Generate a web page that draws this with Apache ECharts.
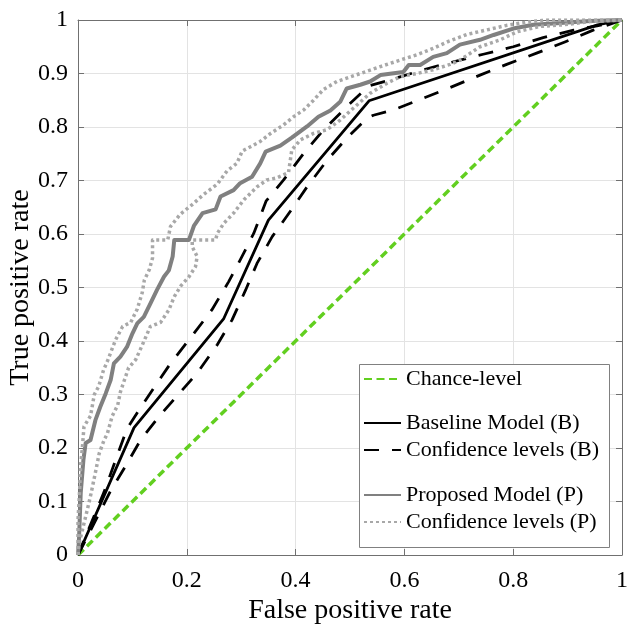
<!DOCTYPE html>
<html><head><meta charset="utf-8">
<script src="https://cdn.jsdelivr.net/npm/echarts@6/dist/echarts.min.js"></script>
<style>html,body{margin:0;padding:0;background:#fff}#c{width:627px;height:624px}</style>
</head><body><div id="c"></div>
<script>
// ---- data ----
const xTickInterval = 0.2;
const yTickInterval = 0.1;
const chanceLevel = [[0,0],[1,1]];
const baselineModel = [[0,0],[0.103,0.238],[0.268,0.442],[0.350,0.626],[0.535,0.849],[0.955,0.991],[1,1]];
const baselineUpper = [[0,0],[0.048,0.118],[0.09,0.236],[0.118,0.28],[0.17,0.358],[0.213,0.414],[0.246,0.458],[0.277,0.511],[0.298,0.551],[0.323,0.601],[0.346,0.662],[0.378,0.701],[0.415,0.751],[0.451,0.794],[0.497,0.841],[0.535,0.877],[0.577,0.889],[0.635,0.907],[0.687,0.921],[0.745,0.936],[0.800,0.950],[0.855,0.967],[0.911,0.981],[0.954,0.989],[1,1]];
const baselineLower = [[0,0],[0.06,0.12],[0.085,0.162],[0.115,0.215],[0.149,0.259],[0.186,0.302],[0.219,0.340],[0.256,0.393],[0.283,0.439],[0.308,0.495],[0.329,0.545],[0.357,0.595],[0.390,0.642],[0.421,0.688],[0.458,0.738],[0.494,0.779],[0.531,0.816],[0.543,0.822],[0.580,0.832],[0.635,0.854],[0.687,0.875],[0.739,0.897],[0.788,0.917],[0.843,0.938],[0.895,0.959],[0.947,0.981],[1,1]];
const proposedModel = [[0,0],[0.002,0.034],[0.005,0.116],[0.010,0.178],[0.014,0.209],[0.023,0.215],[0.032,0.252],[0.041,0.277],[0.051,0.302],[0.060,0.327],[0.066,0.358],[0.078,0.371],[0.090,0.389],[0.100,0.414],[0.109,0.433],[0.121,0.445],[0.133,0.470],[0.145,0.495],[0.158,0.520],[0.167,0.532],[0.174,0.558],[0.177,0.589],[0.204,0.589],[0.213,0.615],[0.229,0.639],[0.253,0.646],[0.262,0.670],[0.286,0.682],[0.298,0.695],[0.320,0.707],[0.335,0.732],[0.345,0.754],[0.372,0.765],[0.393,0.780],[0.421,0.801],[0.442,0.819],[0.464,0.831],[0.482,0.847],[0.494,0.872],[0.519,0.879],[0.537,0.885],[0.556,0.897],[0.598,0.903],[0.608,0.916],[0.629,0.916],[0.653,0.931],[0.678,0.938],[0.702,0.954],[0.739,0.963],[0.764,0.972],[0.800,0.984],[0.837,0.991],[0.880,0.994],[0.941,0.998],[1,1]];
const proposedUpper = [[0,0],[0,0.065],[0.003,0.121],[0.005,0.17],[0.008,0.2],[0.011,0.24],[0.023,0.26],[0.03,0.3],[0.038,0.315],[0.047,0.346],[0.054,0.362],[0.069,0.402],[0.082,0.427],[0.097,0.435],[0.109,0.46],[0.118,0.49],[0.122,0.514],[0.131,0.533],[0.137,0.555],[0.137,0.589],[0.165,0.589],[0.17,0.614],[0.188,0.637],[0.21,0.655],[0.231,0.674],[0.256,0.693],[0.274,0.718],[0.292,0.732],[0.302,0.755],[0.317,0.763],[0.335,0.773],[0.354,0.788],[0.378,0.804],[0.396,0.819],[0.415,0.832],[0.433,0.85],[0.451,0.87],[0.476,0.885],[0.519,0.9],[0.556,0.913],[0.592,0.925],[0.623,0.935],[0.653,0.947],[0.681,0.96],[0.715,0.973],[0.758,0.983],[0.788,0.99],[0.825,0.996],[0.86,1],[1,1]];
const proposedLower = [[0,0],[0.002,0.022],[0.011,0.059],[0.017,0.084],[0.024,0.115],[0.033,0.159],[0.039,0.19],[0.048,0.215],[0.054,0.227],[0.063,0.26],[0.073,0.28],[0.078,0.305],[0.093,0.35],[0.106,0.365],[0.118,0.392],[0.133,0.427],[0.152,0.435],[0.167,0.458],[0.177,0.483],[0.189,0.503],[0.204,0.52],[0.216,0.539],[0.219,0.558],[0.210,0.576],[0.210,0.589],[0.253,0.589],[0.256,0.601],[0.268,0.620],[0.286,0.639],[0.305,0.664],[0.329,0.688],[0.347,0.701],[0.366,0.705],[0.387,0.715],[0.393,0.757],[0.409,0.776],[0.433,0.788],[0.458,0.795],[0.482,0.813],[0.507,0.836],[0.537,0.863],[0.568,0.882],[0.592,0.894],[0.623,0.900],[0.653,0.907],[0.684,0.917],[0.702,0.925],[0.739,0.950],[0.776,0.963],[0.807,0.978],[0.849,0.988],[0.892,0.991],[0.941,0.997],[1,1]];
const names = ['Chance-level','Baseline Model (B)','Confidence levels (B)','Proposed Model (P)','Confidence levels (P)'];

// ---- chart ----
const FONT = "'Liberation Serif','Times New Roman',serif";
const axisCol = '#707070';
const gridCol = '#e3e3e3';
function xAx(pos, labels){
  return {type:'value', position:pos, min:0, max:1, interval:xTickInterval,
    axisLine:{show:true, onZero:false, lineStyle:{color:axisCol,width:1}},
    axisTick:{show:true, inside:true, length:6, lineStyle:{color:axisCol}},
    axisLabel:{show:labels, margin:14, fontFamily:FONT, fontSize:24, color:'#000'},
    splitLine:{show:labels, lineStyle:{color:gridCol,width:1}},
    name: labels ? 'False positive rate' : '', nameLocation:'middle', nameGap:42, nameMoveOverlap:false,
    nameTextStyle:{fontFamily:FONT, fontSize:28, color:'#000'}};
}
function yAx(pos, labels){
  return {type:'value', position:pos, min:0, max:1, interval:yTickInterval,
    axisLine:{show:true, onZero:false, lineStyle:{color:axisCol,width:1}},
    axisTick:{show:true, inside:true, length:6, lineStyle:{color:axisCol}},
    axisLabel:{show:labels, margin:10, fontFamily:FONT, fontSize:24, color:'#000'},
    splitLine:{show:labels, lineStyle:{color:gridCol,width:1}},
    name: labels ? 'True positive rate' : '', nameLocation:'middle', nameGap:43, nameMoveOverlap:false,
    nameTextStyle:{fontFamily:FONT, fontSize:28, color:'#000'}};
}
function line(name, data, color, width, type){
  return {name, type:'line', data, xAxisIndex:0, yAxisIndex:0, symbol:'none', showSymbol:false,
    lineStyle:{color, width, type, cap:'butt', join:'round'}, itemStyle:{color}, animation:false, silent:true};
}
const legText = {fontFamily:FONT, fontSize:22, color:'#000', lineHeight:22};
function leg(data, top){
  return {data, left:363, top, orient:'vertical', itemWidth:37, itemHeight:14, itemGap:5, padding:0,
    textStyle:legText, selectedMode:false, itemStyle:{opacity:0}};
}
const chart = echarts.init(document.getElementById('c'), null, {renderer:'canvas'});
chart.setOption({
  animation:false,
  backgroundColor:'#fff',
  grid:{left:78, top:20, width:544, height:535, containLabel:false, outerBoundsMode:'none'},
  xAxis:[xAx('bottom', true), xAx('top', false)],
  yAxis:[yAx('left', true), yAx('right', false)],
  legend:[leg([names[0]], 368), leg([names[1], names[2]], 412), leg([names[3], names[4]], 484)],
  graphic:[{type:'rect', shape:{x:359.5, y:364.5, width:250, height:183}, style:{fill:'#fff', stroke:'#808080', lineWidth:1}, z:3, silent:true}],
  series:[
    line(names[0], chanceLevel, '#62cf20', 3.5, [8,4.5]),
    line(names[1], baselineModel, '#000', 2.8, 'solid'),
    line(names[2], baselineUpper, '#000', 2.8, [15,13]),
    line(names[2], baselineLower, '#000', 2.8, [15,13]),
    line(names[3], proposedModel, '#808080', 4, 'solid'),
    line(names[4], proposedUpper, '#a8a8a8', 3.5, [3,3]),
    line(names[4], proposedLower, '#a8a8a8', 3.5, [3,3])
  ]
});
</script></body></html>
